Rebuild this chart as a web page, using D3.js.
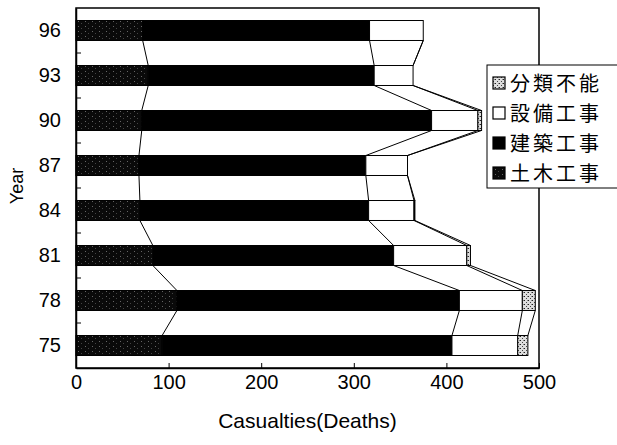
<!DOCTYPE html>
<html>
<head>
<meta charset="utf-8">
<script src="https://cdn.jsdelivr.net/npm/d3@7"></script>
<style>
  body { margin: 0; background: #fff; }
  svg { display: block; }
</style>
</head>
<body>
<div id="chart"></div>
<script>
var w = 617;
var h = 445;

// data (deaths per year, stacked)
var years = ["75", "78", "81", "84", "87", "90", "93", "96"];
var civil = [93, 109, 83, 69, 68, 71, 78, 72];          // 土木工事
var building = [313, 305, 260, 247, 245, 313, 244, 245]; // 建築工事
var equipment = [71, 68, 79, 49, 45, 50, 42, 58];        // 設備工事
var unknown = [11, 14, 4, 1, 0, 4, 0, 0];                // 分類不能
var seriesNames = ["土木工事", "建築工事", "設備工事", "分類不能"];
var xTicks = [0, 100, 200, 300, 400, 500];

var plot = {left: 76, right: 539, top: 8, bottom: 368};

var xScale = d3.scaleLinear()
               .domain([0, 500])
               .range([plot.left, plot.right]);

var yScale = d3.scaleBand()
               .domain(years.slice().reverse())
               .range([plot.top, plot.bottom])
               .paddingInner(0.556)
               .paddingOuter(0.278);

var svg = d3.select("#chart")
            .append("svg")
            .attr("width", w)
            .attr("height", h);

// patterns
var defs = svg.append("defs");
var pCivil = defs.append("pattern")
    .attr("id", "pCivil")
    .attr("patternUnits", "userSpaceOnUse")
    .attr("width", 7).attr("height", 5);
pCivil.append("rect").attr("width", 7).attr("height", 5).attr("fill", "#0a0a0a");
pCivil.append("rect").attr("x", 1).attr("y", 1).attr("width", 1).attr("height", 1).attr("fill", "#666");
pCivil.append("rect").attr("x", 4).attr("y", 3).attr("width", 1).attr("height", 1).attr("fill", "#444");

var pUnk = defs.append("pattern")
    .attr("id", "pUnk")
    .attr("patternUnits", "userSpaceOnUse")
    .attr("width", 4).attr("height", 4);
pUnk.append("rect").attr("width", 4).attr("height", 4).attr("fill", "#ddd");
pUnk.append("rect").attr("x", 0).attr("y", 0).attr("width", 1).attr("height", 1).attr("fill", "#222");
pUnk.append("rect").attr("x", 2).attr("y", 2).attr("width", 1).attr("height", 1).attr("fill", "#444");
pUnk.append("rect").attr("x", 3).attr("y", 0).attr("width", 1).attr("height", 1).attr("fill", "#888");

var fills = ["url(#pCivil)", "#000", "#fff", "url(#pUnk)"];

// stack the four series
var rows = years.map(function(y, i) {
  return {year: y, s0: civil[i], s1: building[i], s2: equipment[i], s3: unknown[i]};
});
var stack = d3.stack().keys(["s0", "s1", "s2", "s3"]);
var layers = stack(rows);

// plot frame
svg.append("rect")
   .attr("x", plot.left)
   .attr("y", plot.top)
   .attr("width", plot.right - plot.left)
   .attr("height", plot.bottom - plot.top)
   .attr("fill", "#fff")
   .attr("stroke", "#000")
   .attr("stroke-width", 1.5);

// series lines between neighbouring bars
var lines = svg.append("g");
layers.forEach(function(layer) {
  for (var i = 0; i < layer.length - 1; i++) {
    var a = layer[i], b = layer[i + 1];
    lines.append("line")
         .attr("x1", xScale(a[1]))
         .attr("y1", yScale(a.data.year))
         .attr("x2", xScale(b[1]))
         .attr("y2", yScale(b.data.year) + yScale.bandwidth())
         .attr("stroke", "#000")
         .attr("stroke-width", 1);
  }
});

// bars
svg.append("g")
   .selectAll("g")
   .data(layers)
   .enter()
   .append("g")
   .attr("fill", (d, i) => fills[i])
   .selectAll("rect")
   .data(d => d.filter(v => v[1] > v[0]))
   .enter()
   .append("rect")
   .attr("x", d => xScale(d[0]))
   .attr("y", d => yScale(d.data.year))
   .attr("width", d => xScale(d[1]) - xScale(d[0]))
   .attr("height", yScale.bandwidth())
   .attr("stroke", "#000")
   .attr("stroke-width", 1);

// x axis (ticks pointing inward)
var xAxis = svg.append("g")
   .attr("transform", "translate(0," + plot.bottom + ")")
   .call(d3.axisBottom(xScale).tickValues(xTicks).tickSizeInner(-5).tickSizeOuter(0).tickPadding(7));
xAxis.select(".domain").attr("stroke", "#000").attr("stroke-width", 1.5);
xAxis.selectAll("text")
     .attr("font-family", "Liberation Sans, Arial, sans-serif")
     .attr("font-size", "20px")
     .attr("fill", "#000");

// y axis labels
var yAxis = svg.append("g")
   .attr("transform", "translate(" + plot.left + ",0)")
   .call(d3.axisLeft(yScale).tickSize(0).tickPadding(15));
yAxis.select(".domain").attr("stroke", "#000").attr("stroke-width", 1.5);
yAxis.selectAll("text")
     .attr("font-family", "Liberation Sans, Arial, sans-serif")
     .attr("font-size", "20px")
     .attr("fill", "#000");

// y ticks between categories, inward
var gap = yScale.step() * yScale.paddingInner() / 2;
svg.append("g")
   .selectAll("line")
   .data(years.slice(0, years.length - 1))
   .enter()
   .append("line")
   .attr("x1", plot.left)
   .attr("x2", plot.left + 5)
   .attr("y1", d => yScale(d) - gap)
   .attr("y2", d => yScale(d) - gap)
   .attr("stroke", "#000");

// axis titles
svg.append("text")
   .attr("x", (plot.left + plot.right) / 2)
   .attr("y", 428)
   .attr("text-anchor", "middle")
   .attr("font-family", "Liberation Sans, Arial, sans-serif")
   .attr("font-size", "21px")
   .text("Casualties(Deaths)");

svg.append("text")
   .attr("transform", "translate(23,186) rotate(-90)")
   .attr("text-anchor", "middle")
   .attr("font-family", "Liberation Sans, Arial, sans-serif")
   .attr("font-size", "18px")
   .text("Year");

// legend
var legend = svg.append("g").attr("transform", "translate(487,65)");
legend.append("rect")
      .attr("width", 160)
      .attr("height", 123)
      .attr("fill", "#fff")
      .attr("stroke", "#000")
      .attr("stroke-width", 1);
var order = [3, 2, 1, 0];
var items = legend.selectAll(".item")
      .data(order)
      .enter()
      .append("g")
      .attr("transform", (d, i) => "translate(0," + (18 + i * 30) + ")");
items.append("rect")
     .attr("x", 6)
     .attr("y", -6)
     .attr("width", 12)
     .attr("height", 12)
     .attr("fill", d => fills[d])
     .attr("stroke", "#000")
     .attr("stroke-width", 1.2);
items.append("text")
     .attr("x", 23)
     .attr("y", 8)
     .attr("font-family", "Noto Sans CJK JP, sans-serif")
     .attr("font-size", "20px")
     .attr("letter-spacing", "3px")
     .text(d => seriesNames[d]);
</script>
</body>
</html>
